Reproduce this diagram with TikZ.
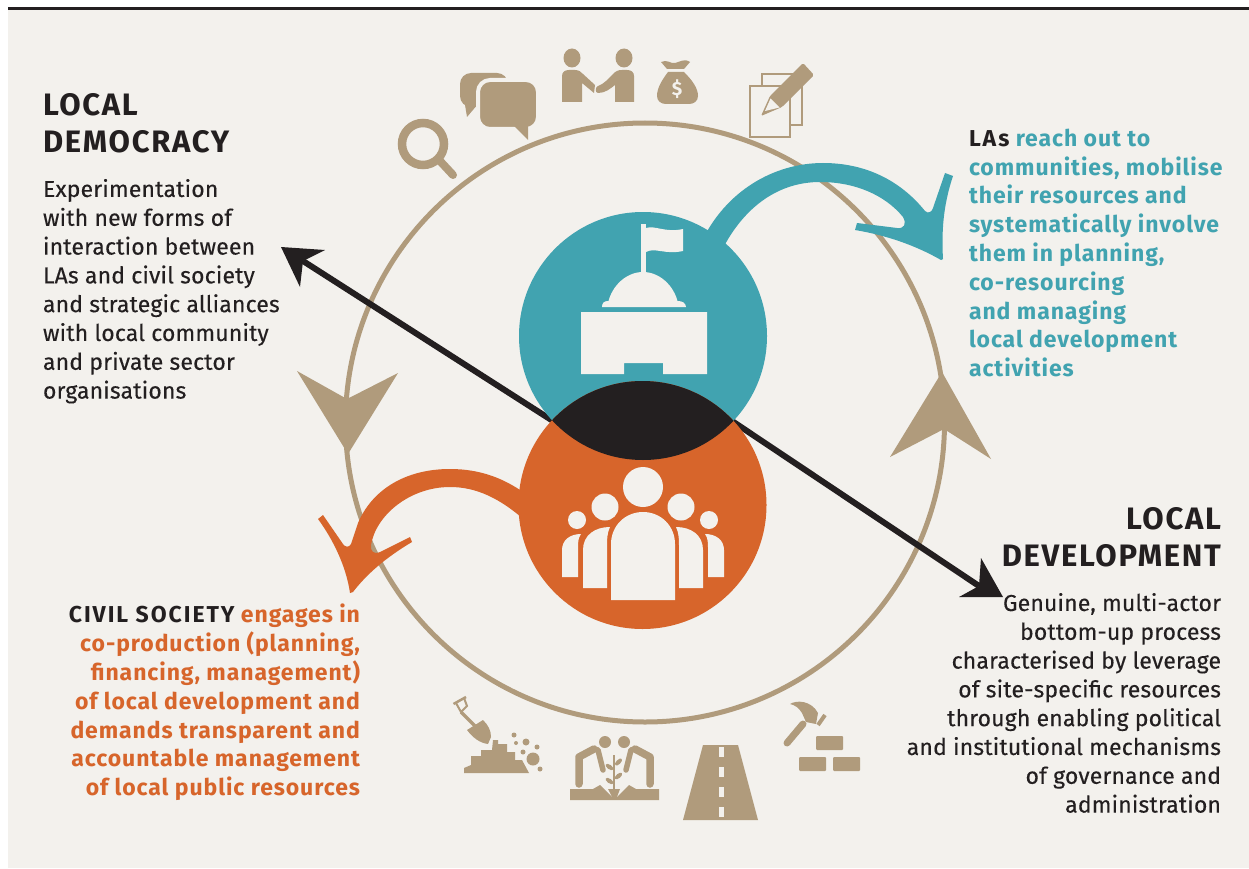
\documentclass[tikz,border=0pt]{standalone}
\usepackage{fontspec}
\setmainfont{Fira Sans}
\newfontfamily\headfont[LetterSpace=5.5]{Fira Sans}
\newfontfamily\bodyfont[LetterSpace=0.7,RawFeature={embolden=0.25}]{Fira Sans}
\newfontfamily\boldfont[LetterSpace=4]{Fira Sans}
\newfontfamily\capsfont[LetterSpace=8.5]{Fira Sans}
\definecolor{bgc}{HTML}{F3F1ED}
\definecolor{tan}{HTML}{B09B7C}
\definecolor{teal}{HTML}{41A3B0}
\definecolor{orng}{HTML}{D7652B}
\definecolor{ink}{HTML}{231F20}
\tikzset{
 bodytext/.style={inner sep=0pt,outer sep=0pt,font=\bodyfont\fontsize{23}{28.8}\selectfont,text=ink},
 boldtext/.style={inner sep=0pt,outer sep=0pt,font=\boldfont\fontsize{23}{28.8}\selectfont\bfseries},
 headtext/.style={inner sep=0pt,outer sep=0pt,font=\headfont\fontsize{31}{37}\selectfont\bfseries,text=ink},
 blackline/.style={draw=ink,line width=6pt},
}
\newcommand{\capsink}[1]{\textcolor{ink}{\capsfont\bfseries #1}}
\begin{document}
\begin{tikzpicture}[x=1pt,y=-1pt]
\useasboundingbox (0,0) rectangle (1249,869);
\fill[bgc] (8,9) rectangle (1249,868);
\fill[ink] (8,7) rectangle (1249,10);
% ring
\coordinate (ringc) at (645,422.5);
\draw[tan,line width=5pt] (ringc) circle (299.5);
% tan arrowheads
\fill[tan] (297,371) -- (347,399) -- (398,373) -- (348,454) -- cycle;
\fill[tan] (942,372) -- (890,457) -- (944,429) -- (991,459) -- cycle;
% teal arrow
\fill[teal] (700,245) .. controls (725,190) and (775,163) .. (823,163)
  .. controls (865,163) and (900,180) .. (925,211)
  .. controls (928,214) and (932,212) .. (933,208)
  -- (945,173) -- (953,176)
  .. controls (945,200) and (941,225) .. (943,259)
  -- (941,260) .. controls (915,245) and (885,235) .. (855,230)
  -- (857,223) -- (897,228)
  .. controls (904,229) and (907,224) .. (903,217)
  .. controls (885,195) and (855,182) .. (820,182)
  .. controls (780,182) and (745,205) .. (722,250) -- cycle;
% orange arrow
\fill[orng] (530,497) .. controls (505,478) and (480,469) .. (450,469)
  .. controls (405,469) and (372,490) .. (358,523)
  -- (351,544) .. controls (349,548) and (345,547) .. (343,544)
  -- (323,515) -- (318,519)
  .. controls (332,538) and (346,565) .. (350,593)
  -- (353,592) .. controls (366,575) and (385,558) .. (412,542)
  -- (410,537) -- (380,552)
  .. controls (374,555) and (370,551) .. (371,545)
  .. controls (376,515) and (410,487) .. (450,487)
  .. controls (475,487) and (500,497) .. (530,525) -- cycle;
% black arrow pieces
\coordinate (lensL) at (553,421);
\coordinate (lensR) at (732,421);
\coordinate (notchL) at (303,261);
\coordinate (notchR) at (979,586);
\draw[blackline] (lensL) -- (notchL);
\draw[blackline] (lensR) -- (notchR);
\fill[ink] (281,247) -- (325,250) -- (303,261) -- (300,287) -- cycle;
\fill[ink] (1003,597) -- (981,558) -- (979,586) -- (959,597) -- cycle;
% circles
\node[circle,fill=teal,minimum size=248pt,inner sep=0pt] (lagov) at (643,336) {};
\node[circle,fill=orng,minimum size=248pt,inner sep=0pt] (civil) at (642.5,505) {};
\begin{scope}
 \clip (643,336) circle (124);
 \fill[ink] (642.5,505) circle (124);
\end{scope}
% building
\fill[bgc] (641,224) rectangle (646,273);
\fill[bgc] (646,228) .. controls (655,225) and (665,233) .. (683,229) -- (683,251)
  .. controls (665,255) and (655,247) .. (646,252) -- cycle;
\fill[bgc] (608,303) .. controls (612,285) and (627,272) .. (643,272) .. controls (659,272) and (674,285) .. (678,303) -- cycle;
\fill[bgc] (602,307) .. controls (602,303) and (604,301) .. (608,301) -- (678,301) .. controls (682,301) and (686,303) .. (686,307) -- cycle;
\fill[bgc] (581,312) -- (707,312) -- (707,374) -- (663,374) -- (663,363) -- (624,363) -- (624,374) -- (581,374) -- cycle;
% people
\fill[bgc] (643,487) circle (20);
\fill[bgc] (611,600) -- (611,544) .. controls (611,526) and (625,512) .. (643,512) .. controls (661,512) and (675,526) .. (675,544) -- (675,600) -- cycle;
\fill[bgc] (605,507) circle (13.5) (681,507) circle (13.5);
\fill[bgc] (583,588) -- (583,550) .. controls (583,535) and (595,527) .. (610,527) .. controls (607,533) and (607,540) .. (607,546) -- (607,588) -- cycle;
\fill[bgc] (703,588) -- (703,550) .. controls (703,535) and (691,527) .. (676,527) .. controls (679,533) and (679,540) .. (679,546) -- (679,588) -- cycle;
\fill[bgc] (577,520) circle (9) (709,520) circle (9);
\fill[bgc] (562,577) -- (562,550) .. controls (562,540) and (570,534) .. (581,534) .. controls (578,538) and (578,543) .. (578,548) -- (578,577) -- cycle;
\fill[bgc] (724,577) -- (724,550) .. controls (724,540) and (716,534) .. (705,534) .. controls (708,538) and (708,543) .. (708,548) -- (708,577) -- cycle;
% magnifier
\draw[tan,line width=8.5pt] (423,144) circle (21);
\draw[tan,line width=8pt,line cap=round] (440,161) -- (453,175);
% speech bubbles
\fill[tan,rounded corners=11pt] (460,73) rectangle (508,107);
\fill[tan] (465,105) -- (467,117) -- (478,104) -- cycle;
\draw[bgc,line width=4pt,fill=tan,rounded corners=12pt] (478,80) rectangle (538,129);
\fill[tan] (514,126) -- (528,140) -- (528,124) -- cycle;
% handshake
\fill[tan] (572,58) ellipse (8.5 and 9.5);
\fill[tan] (624,58) ellipse (8.5 and 9.5);
\fill[tan] (562,102) -- (562,76) .. controls (562,72) and (565,70) .. (569,70) -- (575,70) .. controls (579,70) and (581,72) .. (583,74) -- (595,85) -- (594,93) -- (582,83) -- (582,102) -- cycle;
\fill[tan] (634,102) -- (634,76) .. controls (634,72) and (631,70) .. (627,70) -- (622,70) .. controls (618,70) and (616,71) .. (613,74) .. controls (608,79) and (604,84) .. (598,86) .. controls (595,87) and (595,93) .. (598,93) .. controls (605,93) and (610,89) .. (615,85) -- (615,102) -- cycle;
% money bag
\fill[tan] (661,62) .. controls (667,59) and (671,64) .. (675,63) .. controls (680,62) and (684,58) .. (690,62) -- (684,69) -- (667,69) -- cycle;
\fill[tan] (668,72) -- (684,72) .. controls (692,80) and (698,88) .. (698,96) .. controls (698,101) and (694,104) .. (689,104) -- (666,104) .. controls (661,104) and (657,101) .. (657,96) .. controls (657,88) and (662,80) .. (668,72) -- cycle;
\node[inner sep=0pt,text=bgc,font=\fontsize{19}{19}\selectfont\bfseries] (dollar) at (677,89) {\$};
% papers and pencil
\draw[tan,line width=2.5pt] (762,74) rectangle (802,125);
\draw[tan,line width=2.5pt,fill=bgc] (750,86) rectangle (790,137);
\fill[tan,rounded corners=1.5pt] (761,116) -- (770,96) -- (803,63) -- (814,75) -- (782,107) -- cycle;
\fill[bgc] (765,111) -- (770.5,98.5) -- (779.5,107.5) -- cycle;
% shovel
\draw[tan,line width=2.5pt] (453.5,704) -- (466,697);
\draw[tan,line width=2pt] (456,703) -- (461,712) -- (467,706) -- (464,698);
\draw[tan,line width=3.2pt] (461,712) -- (476,727);
\fill[tan] (467,730) -- (483,720) .. controls (488,725) and (491,730) .. (491,737) -- (488,744) .. controls (480,743) and (473,738) .. (467,730) -- cycle;
% pile
\fill[tan] (464,773) -- (464,768) -- (471,765) -- (471,756) -- (481,756) -- (481,750) -- (492,750) -- (493,740) -- (498,740) -- (498,744) -- (507,744) -- (507,752) -- (515,752) -- (515,760) -- (522,760) -- (529,773) -- cycle;
\fill[tan] (514,735) circle (2.5) (516,743) circle (2) (526,742) circle (3.5) (537,747) circle (2.5) (523,752) circle (2.5) (533,759) circle (6.5) (540,769) circle (2.5);
% planting
\fill[tan] (605,742) circle (6) (624,742) circle (6);
\fill[tan] (570,789) -- (593,789) -- (600,785) -- (612,797) -- (617,797) -- (629,785) -- (636,789) -- (659,789) -- (659,800) -- (570,800) -- cycle;
\draw[tan,line width=7.5pt,line cap=round,line join=round] (579,784) -- (579,757) -- (594,749);
\draw[tan,line width=5.5pt,line cap=round,line join=round] (594,749) -- (598,750) -- (603,770);
\draw[tan,line width=7.5pt,line cap=round,line join=round] (650,784) -- (650,757) -- (635,749);
\draw[tan,line width=5.5pt,line cap=round,line join=round] (635,749) -- (631,750) -- (626,770);
\draw[tan,line width=2pt] (614,755) -- (614,790);
\fill[tan] (608,789) -- (620,789) -- (617,797) -- (612,797) -- cycle;
\foreach \lx/\ly/\la in {609.5/767/-35,618.5/762/45,609.5/781/-35,618.5/776/40}{
 \fill[tan,rotate around={\la:(\lx,\ly)}] (\lx,\ly) ellipse (4.5 and 2.2);
}
% road
\fill[tan] (703,745) -- (738,745) -- (758,820) -- (683,820) -- cycle;
\foreach \dy in {747,767,787,807}{\fill[bgc] (718.5,\dy) rectangle (723.5,\dy+10);}
% hammer
\draw[tan,line width=7pt,line cap=round] (787,743) -- (803,724);
\fill[tan] (790,704) .. controls (796,700) and (811,700) .. (818,713) -- (816,724) -- (806,722) -- (802,713) .. controls (799,708) and (795,705) .. (790,704) -- cycle;
\draw[tan,line width=4pt] (818,725) -- (825,715);
% bricks
\fill[tan,rounded corners=1pt] (816,736) rectangle (843,750);
\fill[tan,rounded corners=1pt] (799,757) rectangle (826,771);
\fill[tan,rounded corners=1pt] (833,757) rectangle (860,771);
% texts
\node[headtext,anchor=north west,align=left] (ldhead) at (43,90.1) {\strut LOCAL\\DEMOCRACY};
\node[bodytext,anchor=north west,align=left] (ldbody) at (43,176.8) {\strut Experimentation\\with new forms of\\interaction between\\LAs and civil society\\and strategic alliances\\with local community\\and private sector\\organisations};
\node[headtext,anchor=north east,align=right] (devhead) at (1221,503.1) {\strut LOCAL\\DEVELOPMENT};
\node[bodytext,anchor=north east,align=right] (devbody) at (1221,590.8) {\strut Genuine, multi-actor\\bottom-up process\\characterised by leverage\\of site-specific resources\\through enabling political\\and institutional mechanisms\\of governance and\\administration};
\node[boldtext,anchor=north west,align=left,text=teal] (latext) at (969,126.2) {\strut\capsink{LAs} reach out to\\communities, mobilise\\their resources and\\systematically involve\\them in planning,\\co-resourcing\\and managing\\local development\\activities};
\node[boldtext,anchor=north east,align=right,text=orng] (cstext) at (360,602.8) {\strut\capsink{CIVIL SOCIETY} engages in\\co-production (planning,\\financing, management)\\of local development and\\demands transparent and\\accountable management\\of local public resources};
\end{tikzpicture}
\end{document}
